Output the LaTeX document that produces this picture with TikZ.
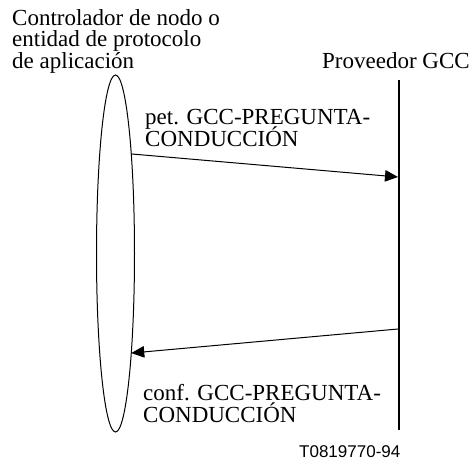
\documentclass[tikz,border=0pt]{standalone}
\usepackage{fontspec}
\setmainfont{Liberation Serif}
\newfontfamily\figfont{Liberation Sans}
\usetikzlibrary{arrows.meta, shapes.geometric}
\lineskiplimit=-100pt

\begin{document}
\begin{tikzpicture}[x=1pt, y=-1pt,
  lbl/.style={inner sep=0pt, align=left, font=\fontsize{23}{21.5}\selectfont},
  msg/.style={line width=1pt, -{Triangle[length=13pt, width=11.5pt]}}]
  \useasboundingbox (0,0) rectangle (475,472);
  \node[ellipse, draw, line width=1pt, minimum width=38pt, minimum height=357pt,
        inner sep=0pt, outer sep=0pt] (ctrl) at (115.5,253.5) {};
  \coordinate (gcctop) at (399,80);
  \coordinate (gccbot) at (399,430);
  \draw[line width=2pt] (gcctop) -- (gccbot);
  \coordinate (reqend) at (398,177);
  \coordinate (cnfstart) at (398,329);
  \draw[msg] (ctrl.81.2) -- (reqend);
  \draw[msg] (cnfstart) -- (ctrl.-81.3);
  \node[lbl, anchor=north west] (ctrllbl) at (12,9.3) {Controlador de nodo o\\entidad de protocolo\\de aplicación};
  \node[lbl, anchor=base west] (gcclbl) at (322,68) {Proveedor GCC};
  \node[lbl, anchor=north west] (reqlbl) at (145,109.5) {pet. GCC-PREGUNTA-\\CONDUCCIÓN};
  \node[lbl, anchor=north west] (cnflbl) at (143,384.3) {conf. GCC-PREGUNTA-\\CONDUCCIÓN};
  \node[font=\figfont\fontsize{17}{20}\selectfont, anchor=base west, inner sep=0pt] (figid) at (299,457) {T0819770-94};
\end{tikzpicture}
\end{document}
